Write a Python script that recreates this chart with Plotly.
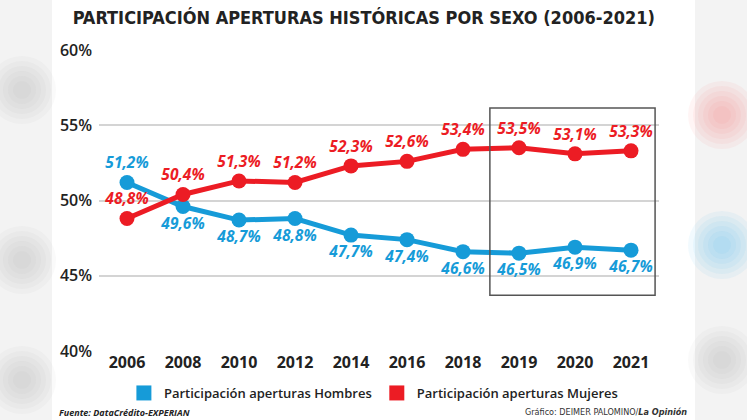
import plotly.graph_objects as go

years = ["2006", "2008", "2010", "2012", "2014", "2016", "2018", "2019", "2020", "2021"]
hombres = [51.2, 49.6, 48.7, 48.8, 47.7, 47.4, 46.6, 46.5, 46.9, 46.7]
mujeres = [48.8, 50.4, 51.3, 51.2, 52.3, 52.6, 53.4, 53.5, 53.1, 53.3]
y_ticks = [40, 45, 50, 55, 60]
y_tick_labels = ["40%", "45%", "50%", "55%", "60%"]

BLUE = "#169bd8"
RED = "#ec1c24"
FONT = "Open Sans"

def fmt(v):
    return f"{v:.1f}%".replace(".", ",")

fig = go.Figure()

fig.add_trace(go.Scatter(
    x=years, y=hombres, mode="lines+markers+text",
    line=dict(color=BLUE, width=5), marker=dict(color=BLUE, size=15),
    text=[fmt(v) for v in hombres],
    textposition=["top center"] + ["bottom center"] * (len(years) - 1),
    textfont=dict(family=FONT, size=15.5, color=BLUE, weight=700, style="italic"),
    showlegend=False, cliponaxis=False, hoverinfo="skip",
))
fig.add_trace(go.Scatter(
    x=years, y=mujeres, mode="lines+markers+text",
    line=dict(color=RED, width=5), marker=dict(color=RED, size=15),
    text=[fmt(v) for v in mujeres],
    textposition="top center",
    textfont=dict(family=FONT, size=15.5, color=RED, weight=700, style="italic"),
    showlegend=False, cliponaxis=False, hoverinfo="skip",
))
# legend entries (square swatches)
fig.add_trace(go.Scatter(x=[None], y=[None], mode="markers",
                         marker=dict(color=BLUE, size=15, symbol="square"),
                         name="Participación aperturas Hombres"))
fig.add_trace(go.Scatter(x=[None], y=[None], mode="markers",
                         marker=dict(color=RED, size=15, symbol="square"),
                         name="Participación aperturas Mujeres"))

def px_x(px):
    return (px - 99) / 560

def px_y(py):
    return (420 - py - 69) / 301

shapes = []
# blurred photo background: white panel + soft blobs
shapes.append(dict(type="rect", xref="paper", yref="paper", x0=px_x(52), x1=px_x(695), y0=px_y(425), y1=px_y(-5),
                   fillcolor="white", line=dict(width=0), layer="below"))
for (cx, cy, col) in [(722, 115, "rgba(255,110,120,0.07)"), (722, 245, "rgba(70,185,235,0.07)"),
                      (22, 90, "rgba(140,140,140,0.04)"), (22, 260, "rgba(140,140,140,0.04)"),
                      (722, 360, "rgba(140,140,140,0.04)"), (22, 380, "rgba(140,140,140,0.04)")]:
    for r in (34, 29, 24, 19, 14, 9):
        shapes.append(dict(type="circle", xref="paper", yref="paper",
                           x0=px_x(cx - r), x1=px_x(cx + r),
                           y0=px_y(cy + r), y1=px_y(cy - r),
                           fillcolor=col, line=dict(width=0), layer="below"))
# highlight box around 2019-2021
shapes.append(dict(type="rect", xref="x", yref="y", x0=6.48, x1=9.43, y0=43.7, y1=56.15,
                   line=dict(color="#555555", width=1.5), fillcolor="rgba(0,0,0,0)", layer="above"))

fig.update_layout(
    width=747, height=420,
    margin=dict(l=99, r=88, t=50, b=69),
    paper_bgcolor="#f3f3f3", plot_bgcolor="white",
    title=dict(text="<b>PARTICIPACIÓN APERTURAS HISTÓRICAS POR SEXO (2006-2021)</b>",
               x=0.487, xanchor="center", y=0.957, yanchor="middle",
               font=dict(family="DejaVu Sans Condensed", size=18, color="#222222")),
    xaxis=dict(type="category", range=[-0.5, 9.5], showgrid=False, zeroline=False, showline=False,
               ticks="", tickfont=dict(family=FONT, size=16, color="#222222", weight=700)),
    yaxis=dict(range=[40, 60], tickvals=y_ticks, ticktext=y_tick_labels, showgrid=True,
               gridcolor="#d4d4d4", gridwidth=2, zeroline=False, showline=False, ticks="",
               ticklabelstandoff=6,
               tickfont=dict(family=FONT, size=16, color="#222222", weight=600)),
    legend=dict(orientation="h", x=0.49, xanchor="center", y=px_y(393), yanchor="middle",
                font=dict(family=FONT, size=13, color="#222222", weight=600),
                bgcolor="rgba(0,0,0,0)", itemwidth=30, tracegroupgap=0),
    shapes=shapes,
    annotations=[
        dict(text="<b><i>Fuente: DataCrédito-EXPERIAN</i></b>", xref="paper", yref="paper",
             x=px_x(57), y=px_y(412), xanchor="left", yanchor="middle", showarrow=False,
             font=dict(family=FONT, size=9, color="#222222")),
        dict(text="Gráfico: DEIMER PALOMINO/<b><i>La Opinión</i></b>", xref="paper", yref="paper",
             x=px_x(689), y=px_y(412), xanchor="right", yanchor="middle", showarrow=False,
             font=dict(family="DejaVu Sans Condensed", size=9, color="#333333")),
    ],
)

fig.write_html("out.html", config={"displayModeBar": False},
               post_script="document.body.style.margin='0';document.body.style.overflow='hidden';")
